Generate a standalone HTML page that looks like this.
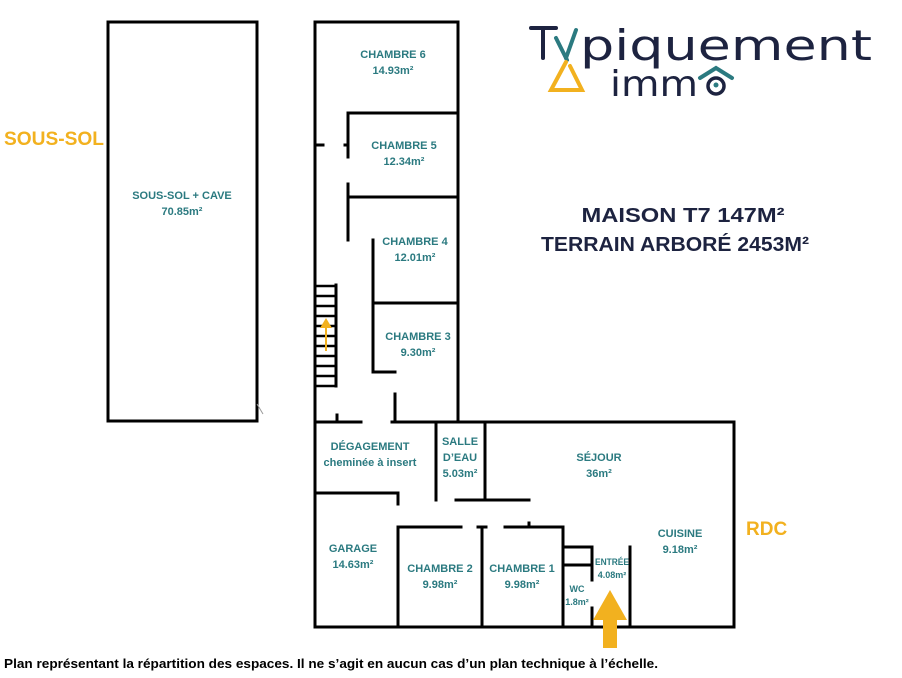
<!DOCTYPE html>
<html><head><meta charset="utf-8"><style>
html,body{margin:0;padding:0;background:#fff;}
svg{display:block;}
.r{font-family:"Liberation Sans",sans-serif;font-weight:bold;fill:#2b7a80;font-size:11px;text-anchor:middle;}
.s{font-size:9px;}
</style></head><body>
<svg width="902" height="678" viewBox="0 0 902 678" xmlns="http://www.w3.org/2000/svg">
<g stroke="#000" stroke-width="3" fill="none" stroke-linecap="square">
<rect x="108" y="22" width="149" height="399"/>
<polyline points="315,421 315,22 458,22 458,421"/>
<line x1="348" y1="113" x2="458" y2="113"/>
<line x1="348" y1="113" x2="348" y2="157"/>
<line x1="348" y1="184" x2="348" y2="240"/>
<line x1="348" y1="197" x2="458" y2="197"/>
<line x1="315" y1="145" x2="323" y2="145"/>
<line x1="345" y1="145" x2="348" y2="145"/>
<line x1="373" y1="240" x2="373" y2="372"/>
<line x1="373" y1="372" x2="395" y2="372"/>
<line x1="373" y1="303" x2="458" y2="303"/>
<line x1="395" y1="394" x2="395" y2="421"/>
<line x1="337" y1="415" x2="337" y2="421"/>
<line x1="336" y1="285" x2="336" y2="386"/>
<line x1="315" y1="421" x2="315" y2="627"/>
<line x1="315" y1="422" x2="361" y2="422"/>
<line x1="392" y1="422" x2="734" y2="422"/>
<line x1="734" y1="422" x2="734" y2="627"/>
<line x1="315" y1="627" x2="734" y2="627"/>
<line x1="436" y1="422" x2="436" y2="500"/>
<line x1="485" y1="422" x2="485" y2="500"/>
<line x1="456" y1="500" x2="529" y2="500"/>
<line x1="315" y1="493" x2="398" y2="493"/>
<line x1="398" y1="493" x2="398" y2="504"/>
<line x1="398" y1="527" x2="461" y2="527"/>
<line x1="478" y1="527" x2="486" y2="527"/>
<line x1="505" y1="527" x2="563" y2="527"/>
<line x1="529" y1="523" x2="529" y2="527"/>
<line x1="398" y1="527" x2="398" y2="627"/>
<line x1="482" y1="527" x2="482" y2="627"/>
<line x1="563" y1="527" x2="563" y2="627"/>
<line x1="563" y1="547" x2="592" y2="547"/>
<line x1="563" y1="565" x2="592" y2="565"/>
<line x1="592" y1="547" x2="592" y2="580"/>
<line x1="592" y1="608" x2="592" y2="627"/>
<line x1="630" y1="547" x2="630" y2="627"/>
</g>
<g stroke="#000" stroke-width="2.5">
<line x1="315" y1="286" x2="337" y2="286"/><line x1="315" y1="296" x2="337" y2="296"/>
<line x1="315" y1="306" x2="337" y2="306"/><line x1="315" y1="316" x2="337" y2="316"/>
<line x1="315" y1="326" x2="337" y2="326"/><line x1="315" y1="336" x2="337" y2="336"/>
<line x1="315" y1="346" x2="337" y2="346"/><line x1="315" y1="356" x2="337" y2="356"/>
<line x1="315" y1="366" x2="337" y2="366"/><line x1="315" y1="376" x2="337" y2="376"/>
<line x1="315" y1="386" x2="337" y2="386"/>
</g>
<line x1="326" y1="351" x2="326" y2="326" stroke="#f2b11f" stroke-width="2"/>
<polygon points="320,328 332,328 326,318" fill="#f2b11f"/>
<polygon points="603,648 617,648 617,620 627,620 610,590 593,620 603,620" fill="#f2b11f"/>
<line x1="257" y1="404" x2="263" y2="414" stroke="#999" stroke-width="1"/>

<text class="r" x="393" y="58">CHAMBRE 6</text><text class="r" x="393" y="74">14.93m²</text>
<text class="r" x="404" y="149">CHAMBRE 5</text><text class="r" x="404" y="165">12.34m²</text>
<text class="r" x="415" y="245">CHAMBRE 4</text><text class="r" x="415" y="261">12.01m²</text>
<text class="r" x="418" y="340">CHAMBRE 3</text><text class="r" x="418" y="356">9.30m²</text>
<text class="r" x="182" y="199">SOUS-SOL + CAVE</text><text class="r" x="182" y="215">70.85m²</text>
<text class="r" x="370" y="450">DÉGAGEMENT</text><text class="r" x="370" y="466">cheminée à insert</text>
<text class="r" x="460" y="445">SALLE</text><text class="r" x="460" y="461">D’EAU</text><text class="r" x="460" y="477">5.03m²</text>
<text class="r" x="599" y="461">SÉJOUR</text><text class="r" x="599" y="477">36m²</text>
<text class="r" x="353" y="552">GARAGE</text><text class="r" x="353" y="568">14.63m²</text>
<text class="r" x="440" y="572">CHAMBRE 2</text><text class="r" x="440" y="588">9.98m²</text>
<text class="r" x="522" y="572">CHAMBRE 1</text><text class="r" x="522" y="588">9.98m²</text>
<text class="r" x="680" y="537">CUISINE</text><text class="r" x="680" y="553">9.18m²</text>
<text class="r s" x="612" y="565" textLength="34" lengthAdjust="spacingAndGlyphs">ENTRÉE</text><text class="r s" x="612" y="578">4.08m²</text>
<text class="r s" x="577" y="592">WC</text><text class="r s" x="577" y="605">1.8m²</text>

<text x="4" y="145" font-family="Liberation Sans,sans-serif" font-weight="bold" font-size="19" fill="#f2b11f" textLength="100" lengthAdjust="spacingAndGlyphs">SOUS-SOL</text>
<text x="746" y="535" font-family="Liberation Sans,sans-serif" font-weight="bold" font-size="19" fill="#f2b11f">RDC</text>
<text x="683" y="222" text-anchor="middle" font-family="Liberation Sans,sans-serif" font-weight="bold" font-size="20" fill="#1d2340" textLength="203" lengthAdjust="spacingAndGlyphs">MAISON T7 147M²</text>
<text x="675" y="251" text-anchor="middle" font-family="Liberation Sans,sans-serif" font-weight="bold" font-size="20" fill="#1d2340" textLength="268" lengthAdjust="spacingAndGlyphs">TERRAIN ARBORÉ 2453M²</text>
<text x="4" y="668" font-family="Liberation Sans,sans-serif" font-weight="bold" font-size="13" fill="#000" textLength="654" lengthAdjust="spacingAndGlyphs">Plan représentant la répartition des espaces. Il ne s’agit en aucun cas d’un plan technique à l’échelle.</text>

<g stroke-linecap="round" fill="none">
<line x1="531" y1="28" x2="556" y2="28" stroke="#1d2340" stroke-width="4"/>
<line x1="543" y1="28" x2="543" y2="58" stroke="#1d2340" stroke-width="4"/>
<line x1="556" y1="38" x2="567" y2="60" stroke="#2b7a80" stroke-width="4"/>
<line x1="576" y1="30" x2="566" y2="58" stroke="#2b7a80" stroke-width="4"/>
<polyline points="566,62 551,90 582,90 570,66" stroke="#f2b11f" stroke-width="4"/>
<polyline points="700,78 716,68 732,78" stroke="#2b7a80" stroke-width="4"/>
<circle cx="716" cy="86" r="8" stroke="#1d2340" stroke-width="3.5"/>
</g>
<circle cx="716" cy="85" r="2.5" fill="#2b7a80"/>
<text x="580" y="60" font-family="DejaVu Sans,sans-serif" font-size="42" fill="#1d2340" textLength="292" lengthAdjust="spacingAndGlyphs">piquement</text>
<text x="610" y="96" font-family="DejaVu Sans,sans-serif" font-size="36" fill="#1d2340" textLength="88" lengthAdjust="spacingAndGlyphs">imm</text>
</svg>
</body></html>
